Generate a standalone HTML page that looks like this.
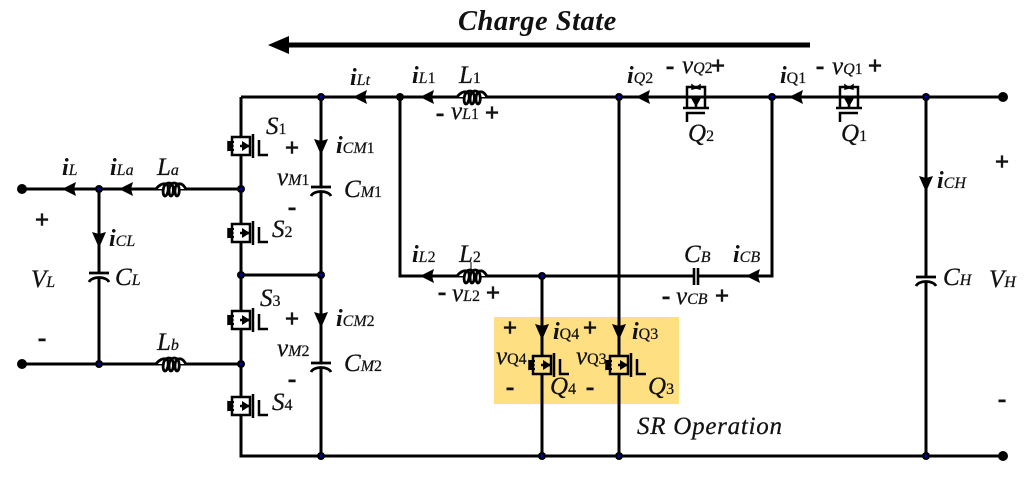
<!DOCTYPE html>
<html><head><meta charset="utf-8">
<style>
html,body{margin:0;padding:0;background:#fff;width:1024px;height:478px;overflow:hidden}
svg{display:block}
text{font-family:"Liberation Serif",serif;fill:#111}
.l{font-size:25px;font-style:italic;stroke:#111;stroke-width:.25}
.l tspan{font-size:16px}
.s tspan{font-style:normal}
.i{font-size:24px;font-style:italic;font-weight:bold}
.i tspan{font-size:16px;font-weight:normal;stroke:#111;stroke-width:.2}
.p{font-size:25px;font-weight:bold;text-anchor:middle;stroke:#111;stroke-width:.6}
.w{fill:none;stroke:#000;stroke-width:3}
.n{font-style:normal}
</style></head><body>
<svg width="1024" height="478" viewBox="0 0 1024 478" xmlns="http://www.w3.org/2000/svg">
<defs>
<g id="sw" fill="none" stroke="#000">
<rect x="-8" y="-8" width="16" height="16" fill="currentColor" stroke="none"/>
<path d="M0 -9H-9V9H0" stroke-width="2.5"/>
<path d="M0 -9H9V9H0" stroke-width="2.5"/>
<path d="M12 -12V12" stroke-width="2.5"/>
<path d="M18 -6V9H27" stroke-width="2.5"/>
<path d="M-1 0H9" stroke-width="2.5"/>
<path d="M1 -5L9 0L1 5Z" fill="#000" stroke="none"/>
<path d="M-13 -4H-7M-13 4H-7" stroke-width="2"/>
<path d="M-13 -4L-8 0L-13 4Z" fill="#000" stroke="#000" stroke-width="1.5"/>
</g>
<g id="qs" fill="none" stroke="#000">
<path d="M-9 11V-10H9V11" stroke-width="2.5"/>
<path d="M-13 11H13" stroke-width="2.5"/>
<path d="M-9 25V16H9" stroke-width="2.5"/>
<path d="M-5 1H5L0 10Z" fill="#000" stroke="none"/>
<path d="M0 0V10" stroke-width="2.5"/>
<path d="M-4 -12L0 -9L4 -12V-8L0 -9L-4 -8Z" fill="#000" stroke="#000" stroke-width="1.5"/>
</g>
<path id="ind" d="M0 0C3 -4 7 -6 10 -5C14 -4 12 7 9 7C6 7 6 -6 13 -6C19 -6 18 7 15 7C12 7 12 -6 18 -6C25 -6 24 7 21 7C18 7 18 -6 23 -5C26 -6 28 -3 30 0" fill="#fff" stroke="#000" stroke-width="2.8"/>
<g id="cap" fill="none" stroke="#000" stroke-width="2.8">
<path d="M-10 0H10"/>
<path d="M-10 9C-7 3 7 3 10 9"/>
</g>
<g id="al"><path d="M-7 0L7 -7L5 0L7 7Z" fill="#000"/></g>
<g id="ad"><path d="M-7 -8L0 8L7 -8L0 -6Z" fill="#000"/></g>
</defs>

<rect x="494" y="317" width="185" height="87" fill="#FEDF82"/>

<text x="458" y="30" style="font-size:28.5px;font-style:italic;font-weight:bold;letter-spacing:.5px">Charge State</text>
<path d="M286 45H810" stroke="#000" stroke-width="5"/>
<path d="M268 45L289 36V54Z" fill="#000"/>

<!-- wires -->
<path class="w" d="M241 97H1003M241 97V456H1003M321 97V456M241 275H321M22 189H241M22 364H241M99 189V364M400 97V276H772V97M619 97V456M542 276V456M926 97V456"/>

<!-- erase gaps -->
<g fill="#fff">
<rect x="315" y="188.500" width="12" height="4"/>
<rect x="315" y="364.500" width="12" height="4"/>
<rect x="93" y="274" width="12" height="4"/>
<rect x="920" y="278" width="12" height="4"/>
<rect x="695" y="273" width="2" height="6"/>
</g>

<use href="#cap" x="321" y="187"/>
<use href="#cap" x="321" y="363"/>
<use href="#cap" x="99" y="273"/>
<use href="#cap" x="926" y="277"/>
<path d="M694 268V285M698 268V285" stroke="#000" stroke-width="2.6"/>

<use href="#ind" x="156" y="189"/>
<use href="#ind" x="156" y="364"/>
<use href="#ind" x="457" y="97"/>
<use href="#ind" x="457" y="276"/>
<path d="M471 262V271" stroke="#000" stroke-width="1"/>

<use href="#sw" x="241" y="146" color="#fff"/>
<use href="#sw" x="241" y="233" color="#fff"/>
<use href="#sw" x="241" y="320" color="#fff"/>
<use href="#sw" x="241" y="406" color="#fff"/>
<use href="#sw" x="542" y="365" color="#FEDF82"/>
<use href="#sw" x="619" y="365" color="#FEDF82"/>
<use href="#qs" x="696" y="97"/>
<use href="#qs" x="849" y="97"/>

<!-- arrows -->
<use href="#al" x="360" y="97"/><use href="#al" x="427" y="97"/>
<use href="#al" x="643" y="97"/><use href="#al" x="796" y="97"/>
<use href="#al" x="753" y="276"/><use href="#al" x="427" y="276"/>
<use href="#al" x="69" y="189"/><use href="#al" x="126" y="189"/>
<use href="#ad" x="99" y="240"/><use href="#ad" x="321" y="147"/>
<use href="#ad" x="321" y="320"/><use href="#ad" x="926" y="184"/>
<use href="#ad" x="542" y="332"/><use href="#ad" x="619" y="332"/>

<!-- nodes -->
<g fill="#000">
<circle cx="321" cy="97" r="4"/><circle cx="400" cy="97" r="4"/><circle cx="619" cy="97" r="4"/><circle cx="772" cy="97" r="4"/><circle cx="926" cy="97" r="4"/>
<circle cx="99" cy="189" r="4"/><circle cx="241" cy="189" r="4"/><circle cx="241" cy="275" r="4"/><circle cx="321" cy="275" r="4"/>
<circle cx="99" cy="364" r="4"/><circle cx="241" cy="364" r="4"/><circle cx="542" cy="276" r="4"/>
<circle cx="321" cy="456" r="4"/><circle cx="542" cy="456" r="4"/><circle cx="619" cy="456" r="4"/><circle cx="926" cy="456" r="4"/>
<circle cx="22" cy="189" r="5"/><circle cx="22" cy="364" r="5"/><circle cx="1003" cy="97" r="5"/><circle cx="1003" cy="456" r="5"/>
</g>
<g fill="#0000c8">
<circle cx="321" cy="97" r="1.500"/><circle cx="619" cy="97" r="1.500"/><circle cx="772" cy="97" r="1.500"/><circle cx="926" cy="97" r="1.500"/>
<circle cx="99" cy="189" r="1.500"/><circle cx="241" cy="189" r="1.500"/><circle cx="241" cy="275" r="1.500"/><circle cx="321" cy="275" r="1.500"/>
<circle cx="99" cy="364" r="1.500"/><circle cx="241" cy="364" r="1.500"/><circle cx="542" cy="276" r="1.500"/>
<circle cx="321" cy="456" r="1.500"/><circle cx="542" cy="456" r="1.500"/><circle cx="619" cy="456" r="1.500"/><circle cx="926" cy="456" r="1.500"/>
</g>

<!-- labels -->
<text class="i" x="62" y="175">i<tspan>L</tspan></text>
<text class="i" x="110" y="175">i<tspan>La</tspan></text>
<text class="l" x="157" y="175">L<tspan>a</tspan></text>
<text class="i" x="109" y="246">i<tspan>CL</tspan></text>
<text class="l" x="115" y="285">C<tspan>L</tspan></text>
<text class="l" x="31" y="287">V<tspan>L</tspan></text>
<text class="p" x="42" y="228">+</text>
<text class="p" x="42" y="346">-</text>
<text class="l" x="157" y="350">L<tspan>b</tspan></text>

<text class="l s" x="266" y="134">S<tspan>1</tspan></text>
<text class="l s" x="272" y="237">S<tspan>2</tspan></text>
<text class="l s" x="260" y="306">S<tspan>3</tspan></text>
<text class="l s" x="272" y="410">S<tspan>4</tspan></text>
<text class="p" x="292" y="156">+</text>
<text class="p" x="292" y="215">-</text>
<text class="p" x="292" y="327">+</text>
<text class="p" x="292" y="387">-</text>
<text class="l" x="277" y="185">v<tspan>M</tspan><tspan class="n">1</tspan></text>
<text class="l" x="277" y="356">v<tspan>M</tspan><tspan class="n">2</tspan></text>
<text class="i" x="336" y="153">i<tspan>CM</tspan><tspan class="n">1</tspan></text>
<text class="i" x="336" y="326">i<tspan>CM</tspan><tspan class="n">2</tspan></text>
<text class="l" x="344" y="197">C<tspan>M</tspan><tspan class="n">1</tspan></text>
<text class="l" x="344" y="371">C<tspan>M</tspan><tspan class="n">2</tspan></text>

<text class="i" x="350" y="85">i<tspan>Lt</tspan></text>
<text class="i" x="412" y="83">i<tspan>L</tspan><tspan class="n">1</tspan></text>
<text class="l s" x="459" y="83">L<tspan>1</tspan></text>
<text class="p" x="440" y="121">-</text>
<text class="l" x="451" y="119">v<tspan>L</tspan><tspan class="n">1</tspan></text>
<text class="p" x="492" y="121">+</text>

<text class="i" x="627" y="83">i<tspan>Q</tspan><tspan class="n">2</tspan></text>
<text class="p" x="670" y="74">-</text>
<text class="l" x="682" y="73">v<tspan>Q</tspan><tspan class="n">2</tspan></text>
<text class="p" x="718" y="74">+</text>
<text class="l s" x="688" y="141">Q<tspan>2</tspan></text>

<text class="i" x="780" y="83">i<tspan class="n">Q1</tspan></text>
<text class="p" x="820" y="74">-</text>
<text class="l" x="832" y="74">v<tspan>Q</tspan><tspan class="n">1</tspan></text>
<text class="p" x="875" y="74">+</text>
<text class="l s" x="841" y="141">Q<tspan>1</tspan></text>

<text class="i" x="937" y="188">i<tspan>CH</tspan></text>
<text class="l" x="943" y="285">C<tspan>H</tspan></text>
<text class="l" x="989" y="287">V<tspan>H</tspan></text>
<text class="p" x="1002" y="170">+</text>
<text class="p" x="1002" y="407">-</text>

<text class="i" x="412" y="262">i<tspan>L</tspan><tspan class="n">2</tspan></text>
<text class="l s" x="459" y="262">L<tspan>2</tspan></text>
<text class="p" x="442" y="300">-</text>
<text class="l" x="452" y="301">v<tspan>L</tspan><tspan class="n">2</tspan></text>
<text class="p" x="493" y="301">+</text>

<text class="l" x="684" y="262">C<tspan>B</tspan></text>
<text class="i" x="733" y="262">i<tspan>CB</tspan></text>
<text class="p" x="666" y="304">-</text>
<text class="l" x="676" y="304">v<tspan>CB</tspan></text>
<text class="p" x="722" y="304">+</text>

<text class="p" x="510" y="336">+</text>
<text class="p" x="590" y="336">+</text>
<text class="i" x="553" y="339">i<tspan class="n">Q4</tspan></text>
<text class="i" x="632" y="339">i<tspan class="n">Q3</tspan></text>
<text class="l" x="496" y="364">v<tspan class="n">Q4</tspan></text>
<text class="l" x="576" y="364">v<tspan class="n">Q3</tspan></text>
<text class="p" x="510" y="395">-</text>
<text class="p" x="590" y="395">-</text>
<text class="l s" x="550" y="394">Q<tspan>4</tspan></text>
<text class="l s" x="648" y="394">Q<tspan>3</tspan></text>

<text x="637" y="434" style="font-size:25px;font-style:italic;letter-spacing:.75px;stroke:#111;stroke-width:.25">SR Operation</text>
</svg>
</body></html>
